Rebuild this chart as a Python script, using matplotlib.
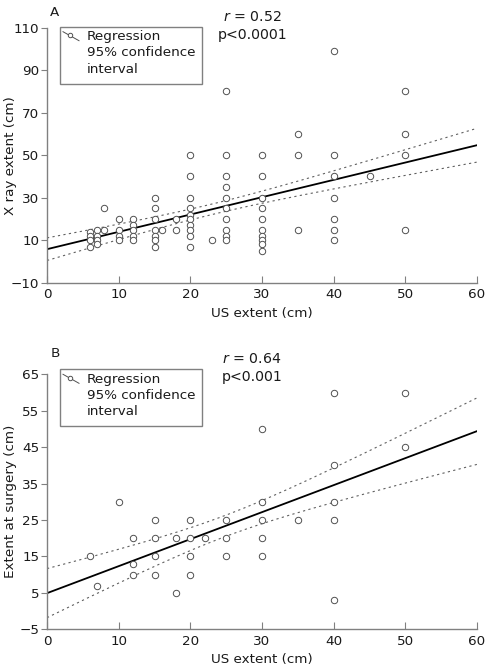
import numpy as np
import matplotlib
matplotlib.use("Agg")
import matplotlib.pyplot as plt
from matplotlib.patches import Rectangle

# Panel A: US extent vs X ray extent (cm)
a_us = [6, 6, 6, 6, 7, 7, 7, 7, 8, 8, 10, 10, 10, 10, 12, 12, 12, 12, 12,
        15, 15, 15, 15, 15, 15, 15, 16, 18, 18,
        20, 20, 20, 20, 20, 20, 20, 20, 20, 20, 23,
        25, 25, 25, 25, 25, 25, 25, 25, 25, 25,
        30, 30, 30, 30, 30, 30, 30, 30, 30, 30,
        35, 35, 35, 40, 40, 40, 40, 40, 40, 40, 45, 50, 50, 50, 50]
a_xray = [14, 12, 10, 7, 15, 12, 10, 8, 25, 15, 20, 15, 12, 10, 20, 17, 15, 12, 10,
          30, 25, 20, 15, 12, 10, 7, 15, 20, 15,
          50, 40, 30, 25, 22, 20, 17, 15, 12, 7, 10,
          80, 50, 40, 35, 30, 25, 20, 15, 12, 10,
          50, 40, 30, 25, 20, 15, 12, 10, 8, 5,
          60, 50, 15, 99, 50, 40, 30, 20, 15, 10, 40, 80, 60, 50, 15]

# Panel B: US extent vs extent at surgery (cm)
b_us = [6, 7, 10, 12, 12, 12, 15, 15, 15, 15, 18, 18, 20, 20, 20, 20, 22,
        25, 25, 25, 30, 30, 30, 30, 30, 35, 40, 40, 40, 40, 40, 50, 50]
b_surgery = [15, 7, 30, 20, 13, 10, 25, 20, 15, 10, 20, 5, 25, 20, 15, 10, 20,
             25, 20, 15, 50, 30, 25, 20, 15, 25, 60, 40, 30, 25, 3, 60, 45]

a_stats = ["$r$ = 0.52", "p<0.0001"]
b_stats = ["$r$ = 0.64", "p<0.001"]
a_yticks = [-10, 10, 30, 50, 70, 90, 110]
b_yticks = [-5, 5, 15, 25, 35, 45, 55, 65]
xticks = [0, 10, 20, 30, 40, 50, 60]

plt.rcParams["font.family"] = ["DejaVu Sans"]
plt.rcParams["font.size"] = 9.7
FS = 9.7
GREY = "#808080"
INK = "#1a1a1a"

AX_W, AX_H = 430.0, 255.0  # axes size in pixels


def fit_band(x, y, xs, mult):
    x = np.asarray(x, float)
    y = np.asarray(y, float)
    slope, icpt = np.polyfit(x, y, 1)
    resid = y - (icpt + slope * x)
    n = len(x)
    s = np.sqrt(np.sum(resid ** 2) / (n - 2))
    sxx = np.sum((x - x.mean()) ** 2)
    half = mult * s * np.sqrt(1.0 / n + (xs - x.mean()) ** 2 / sxx)
    line = icpt + slope * xs
    return line, line - half, line + half


def draw_panel(ax, x, y, ylim, yticks, ylabel, stats, label, mult,
               box_top, stat_dy, label_dy):
    xs = np.linspace(0, 60, 200)
    line, lo, hi = fit_band(x, y, xs, mult)
    ax.plot(x, y, "o", ms=4.6, mfc="white", mec="#505050", mew=0.7,
            zorder=3)
    ax.plot(xs, line, color="black", lw=1.3, zorder=2)
    for band in (lo, hi):
        ax.plot(xs, band, color="#606060", lw=0.8, ls=(0, (2, 3)), zorder=2)

    ax.set_xlim(0, 60)
    ax.set_ylim(*ylim)
    ax.set_xticks(xticks)
    ax.set_yticks(yticks)
    ax.set_yticklabels([str(t).replace("-", "\u2212") for t in yticks])
    for side in ("top", "right"):
        ax.spines[side].set_visible(False)
    for side in ("left", "bottom"):
        ax.spines[side].set_color(GREY)
        ax.spines[side].set_linewidth(1.0)
    ax.tick_params(axis="x", direction="in", length=5, color=GREY,
                   labelsize=FS, pad=4, labelcolor=INK)
    ax.tick_params(axis="y", direction="out", length=4, color=GREY,
                   labelsize=FS, pad=1.5, labelcolor=INK)
    ax.set_xlabel("US extent (cm)", fontsize=FS, color=INK)
    ax.xaxis.set_label_coords(0.5, -24 / AX_H)
    ax.set_ylabel(ylabel, fontsize=FS, color=INK)
    ax.yaxis.set_label_coords(-30 / AX_W, 0.5)

    # legend box drawn by hand
    fx = lambda px: px / AX_W
    fy = lambda px: px / AX_H
    x0, x1 = fx(12.5), fx(154.5)
    y1 = box_top
    y0 = box_top - fy(57)
    ax.add_patch(Rectangle((x0, y0), x1 - x0, y1 - y0, transform=ax.transAxes,
                           fill=False, ec=GREY, lw=1.0, clip_on=False))
    ax.text(fx(40), y1 - fy(3.5), "Regression\n95% confidence\ninterval",
            transform=ax.transAxes, ha="left", va="top", fontsize=FS,
            color=INK, linespacing=1.32, clip_on=False)
    ax.plot([fx(16), fx(32)], [y1 - fy(5), y1 - fy(14)], color="#505050",
            lw=0.7, transform=ax.transAxes, clip_on=False)
    ax.plot([fx(22.5)], [y1 - fy(8.5)], "o", ms=3.2, mfc="white", mec="#505050",
            mew=0.7, transform=ax.transAxes, clip_on=False)

    ax.text(0.477, 1 + fy(stat_dy[0]), stats[0], transform=ax.transAxes,
            ha="center", va="center", fontsize=FS + 0.5, color=INK)
    ax.text(0.477, 1 + fy(stat_dy[1]), stats[1], transform=ax.transAxes,
            ha="center", va="center", fontsize=FS + 0.5, color=INK)
    ax.text(fx(8), 1 + fy(label_dy), label, transform=ax.transAxes,
            ha="center", va="center", fontsize=FS, color=INK)


fig = plt.figure(figsize=(4.86, 6.70), dpi=100)
ax_a = fig.add_axes([47 / 486, 1 - 282.7 / 670, AX_W / 486, AX_H / 670])
ax_b = fig.add_axes([47 / 486, 1 - 629.3 / 670, AX_W / 486, AX_H / 670])

draw_panel(ax_a, a_us, a_xray, (-10, 110), a_yticks, "X ray extent (cm)",
           a_stats, "A", 1.33, 1 + 1 / AX_H, (10.7, -7.3), 15.5)
draw_panel(ax_b, b_us, b_surgery, (-5, 65), b_yticks, "Extent at surgery (cm)",
           b_stats, "B", 1.5, 1 + 5 / AX_H, (15, -2.4), 21)

fig.savefig("out.png", dpi=100)
